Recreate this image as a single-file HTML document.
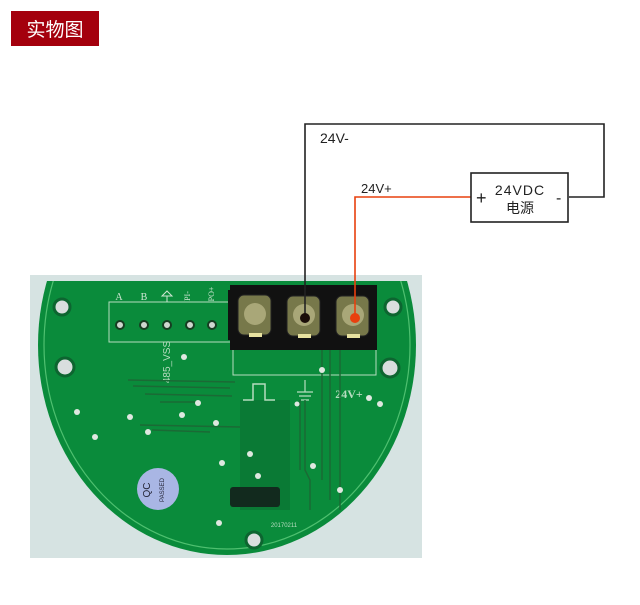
<!DOCTYPE html>
<html><head><meta charset="utf-8"><style>
html,body{margin:0;padding:0;background:#fff;width:640px;height:605px;overflow:hidden}
</style></head><body>
<svg width="640" height="605" viewBox="0 0 640 605" xmlns="http://www.w3.org/2000/svg" style="position:absolute;left:0;top:0">
<rect x="11" y="11" width="88" height="35" fill="#a4000d"/>
<text x="55" y="36" font-family="Liberation Sans, Noto Sans CJK SC, sans-serif" font-size="19" fill="#fff" text-anchor="middle">实物图</text>

<rect x="30" y="275" width="392" height="283" fill="#d6e3e2"/>
<defs><clipPath id="b"><rect x="30" y="281" width="392" height="280"/></clipPath></defs>
<g clip-path="url(#b)">
<ellipse cx="227" cy="345" rx="189" ry="210" fill="#0a8b3b"/>
<ellipse cx="227" cy="345" rx="183" ry="204" fill="none" stroke="#4fc070" stroke-width="1.2"/>
<rect x="240" y="400" width="50" height="110" fill="#0a6a30" opacity="0.5"/>
<rect x="230" y="487" width="50" height="20" rx="3" fill="#122a1e"/>
</g>
<rect x="109" y="302" width="124" height="40" fill="none" stroke="#b6dcbf" stroke-width="1"/>
<g fill="#cfe6d3" font-family="Liberation Serif, serif" font-size="10" text-anchor="middle">
<text x="119" y="300">A</text><text x="144" y="300">B</text>
</g>
<path d="M162,296 L167,291 L172,296 Z M167,296 L167,302" fill="none" stroke="#cfe6d3" stroke-width="1"/>
<text x="190" y="296" font-family="Liberation Serif, serif" font-size="8" fill="#cfe6d3" text-anchor="middle" transform="rotate(-90 190 296)">PI-</text>
<text x="214" y="294" font-family="Liberation Serif, serif" font-size="8" fill="#cfe6d3" text-anchor="middle" transform="rotate(-90 214 294)">PO+</text>
<g fill="#d0d6d0" stroke="#173d22" stroke-width="2">
<circle cx="120" cy="325" r="4"/><circle cx="144" cy="325" r="4"/><circle cx="167" cy="325" r="4"/><circle cx="190" cy="325" r="4"/><circle cx="212" cy="325" r="4"/>
</g>
<g fill="#d9dede" stroke="#0d6530" stroke-width="3">
<circle cx="62" cy="307" r="8"/><circle cx="65" cy="367" r="9"/><circle cx="393" cy="307" r="8"/><circle cx="390" cy="368" r="9"/><circle cx="254" cy="540" r="8"/>
</g>
<rect x="233" y="345" width="143" height="30" fill="none" stroke="#b6dcbf" stroke-width="1"/>
<path d="M243,400 L253,400 L253,384 L265,384 L265,400 L275,400" fill="none" stroke="#b6dcbf" stroke-width="1.5"/>
<path d="M305,380 L305,392 M297,392 L313,392 M299,396 L311,396 M301,400 L309,400" fill="none" stroke="#b6dcbf" stroke-width="1.2"/>
<text x="349" y="398" font-family="Liberation Serif, serif" font-size="12" font-weight="bold" fill="#b6dcbf" text-anchor="middle">24V+</text>
<text x="170" y="362" font-family="Liberation Sans, sans-serif" font-size="10" fill="#b6dcbf" transform="rotate(-90 170 362)" text-anchor="middle">485_VSS</text>
<g fill="none" stroke="#1b6a35" stroke-width="1.5">
<path d="M128,380 L235,382 M133,386 L230,388 M145,394 L232,396 M160,402 L198,402 M140,425 L240,427 M152,430 L210,432"/>
<path d="M300,400 L300,470 M305,400 L305,470 L310,480 L310,510 M322,345 L322,480 M330,345 L330,500 M340,345 L340,510"/>
</g>
<g fill="#dfe8e0">
<circle cx="77" cy="412" r="3"/><circle cx="95" cy="437" r="3"/><circle cx="130" cy="417" r="3"/><circle cx="148" cy="432" r="3"/><circle cx="182" cy="415" r="3"/><circle cx="198" cy="403" r="3"/><circle cx="216" cy="423" r="3"/><circle cx="250" cy="454" r="3"/><circle cx="222" cy="463" r="3"/><circle cx="258" cy="476" r="3"/><circle cx="313" cy="466" r="3"/><circle cx="340" cy="490" r="3"/><circle cx="184" cy="357" r="3"/><circle cx="322" cy="370" r="3"/><circle cx="369" cy="398" r="3"/><circle cx="380" cy="404" r="3"/><circle cx="219" cy="523" r="3"/><circle cx="297" cy="404" r="2.5"/>
</g>
<circle cx="158" cy="489" r="21" fill="#a9b6e4"/>
<text x="150" y="490" font-family="Liberation Sans, sans-serif" font-size="10" fill="#223" text-anchor="middle" transform="rotate(-90 150 490)">QC</text>
<text x="164" y="490" font-family="Liberation Sans, sans-serif" font-size="6" fill="#223" text-anchor="middle" transform="rotate(-90 164 490)">PASSED</text>
<text x="284" y="527" font-family="Liberation Sans, sans-serif" font-size="6" fill="#b6dcbf" text-anchor="middle">20170211</text>

<rect x="230" y="285" width="147" height="65" fill="#111"/>
<rect x="228" y="290" width="4" height="50" fill="#111"/>
<g fill="#77784a" stroke="#222" stroke-width="1">
<rect x="238" y="295" width="33" height="40" rx="6"/>
<rect x="287" y="296" width="33" height="40" rx="6"/>
<rect x="336" y="296" width="33" height="40" rx="6"/>
</g>
<g fill="#a9a778">
<circle cx="255" cy="314" r="11"/><circle cx="304" cy="315" r="11"/><circle cx="353" cy="315" r="11"/>
</g>
<g fill="#e8e2a0"><rect x="249" y="333" width="13" height="4"/><rect x="298" y="334" width="13" height="4"/><rect x="347" y="334" width="13" height="4"/></g>

<path d="M305,316 L305,124 L604,124 L604,197 L569,197" fill="none" stroke="#222" stroke-width="1.6"/>
<circle cx="305" cy="318" r="5" fill="#1a0d08"/>
<path d="M355,318 L355,197 L471,197" fill="none" stroke="#e8400e" stroke-width="1.6"/>
<circle cx="355" cy="318" r="5" fill="#e8400e"/>
<rect x="471" y="173" width="97" height="49" fill="#fff" stroke="#222" stroke-width="1.6"/>
<g font-family="Liberation Sans, Noto Sans CJK SC, sans-serif" fill="#222">
<text x="320" y="143" font-size="14">24V-</text>
<text x="361" y="193" font-size="13">24V+</text>
<text x="476" y="204" font-size="18">+</text>
<text x="556" y="203" font-size="16">-</text>
<text x="520" y="195" font-size="14" text-anchor="middle" letter-spacing="1">24VDC</text>
<text x="520" y="213" font-size="14" text-anchor="middle">电源</text>
</g>
</svg>
</body></html>
